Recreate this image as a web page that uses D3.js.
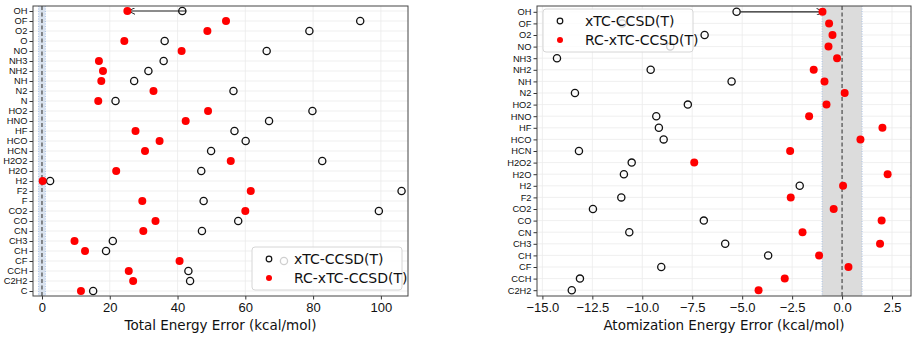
<!DOCTYPE html>
<html>
<head>
<meta charset="utf-8">
<script src="https://cdn.jsdelivr.net/npm/d3@7"></script>
<style>
  body { margin: 0; background: #fff; }
  svg { font-family: "DejaVu Sans", sans-serif; }
</style>
</head>
<body>
<svg id="svg" width="918" height="337"></svg>
<script>
// ---- left panel: total energy error ----
var totalMols = ["OH","OF","O2","O","NO","NH3","NH2","NH","N2","N","HO2","HNO","HF","HCO","HCN","H2O2","H2O","H2","F2","F","CO2","CO","CN","CH3","CH","CF","CCH","C2H2","C"];
var totalXtc  = [41.4,93.9,78.9,36.2,66.3,35.9,31.4,27.2,56.5,21.7,79.8,67.0,56.8,60.1,49.9,82.7,47.0,2.4,106.1,47.7,99.4,57.9,47.2,20.9,18.9,71.4,43.2,43.7,15.1];
var totalRc   = [25.2,54.3,48.8,24.3,41.2,16.8,18.0,17.5,32.9,16.6,49.0,42.4,27.6,34.7,30.4,55.7,21.9,0.2,61.6,29.6,60.0,33.5,29.9,9.6,12.7,40.6,25.6,26.9,11.5];
var totalTicks = [0,20,40,60,80,100];

// ---- right panel: atomization energy error ----
var atomMols = ["OH","OF","O2","NO","NH3","NH2","NH","N2","HO2","HNO","HF","HCO","HCN","H2O2","H2O","H2","F2","CO2","CO","CN","CH3","CH","CF","CCH","C2H2"];
var atomXtc  = [-5.28,-11.0,-6.88,-8.6,-14.27,-9.58,-5.53,-13.37,-7.72,-9.3,-9.17,-8.93,-13.17,-10.53,-10.92,-2.12,-11.05,-12.47,-6.92,-10.65,-5.85,-3.7,-9.05,-13.12,-13.53];
var atomRc   = [-0.98,-0.65,-0.48,-0.68,-0.25,-1.42,-0.88,0.13,-0.78,-1.65,2.02,0.92,-2.6,-7.4,2.28,0.05,-2.57,-0.42,1.98,-1.98,1.9,-1.15,0.32,-2.87,-4.18];
var atomTicks = [-15,-12.5,-10,-7.5,-5,-2.5,0,2.5];

var legendNames = ["xTC-CCSD(T)","RC-xTC-CCSD(T)"];

var svg = d3.select("#svg");
var defs = svg.append("defs");
defs.append("marker")
  .attr("id","arr")
  .attr("viewBox","0 0 10 10")
  .attr("refX",10).attr("refY",5)
  .attr("markerWidth",7).attr("markerHeight",7)
  .attr("markerUnits","userSpaceOnUse")
  .attr("orient","auto")
  .append("path")
  .attr("d","M0,0 L10,5 L0,10")
  .attr("fill","none").attr("stroke","#222").attr("stroke-width",1.4);

function panel(o){
  var x = d3.scaleLinear().domain(o.xdom).range([o.left,o.right]);
  var y = d3.scalePoint().domain(o.mols).range([o.top,o.bottom]).padding(0.5);
  var g = svg.append("g");

  // grid
  g.selectAll(".vg").data(o.ticks).enter().append("line")
    .attr("x1",d=>x(d)).attr("x2",d=>x(d))
    .attr("y1",o.top).attr("y2",o.bottom)
    .attr("stroke","#ebebeb").attr("stroke-width",0.8);
  g.selectAll(".hg").data(o.mols).enter().append("line")
    .attr("x1",o.left).attr("x2",o.right)
    .attr("y1",d=>y(d)).attr("y2",d=>y(d))
    .attr("stroke","#ebebeb").attr("stroke-width",0.8);

  // chemical accuracy band
  g.append("rect")
    .attr("x",x(-1)).attr("width",x(1)-x(-1))
    .attr("y",o.top).attr("height",o.bottom-o.top)
    .attr("fill",o.band);
  [-1,1].forEach(function(v){
    g.append("line")
      .attr("x1",x(v)).attr("x2",x(v)).attr("y1",o.top).attr("y2",o.bottom)
      .attr("stroke","#a9c1e6").attr("stroke-width",1).attr("stroke-dasharray","1,1.5");
  });
  g.append("line")
    .attr("x1",x(0)).attr("x2",x(0)).attr("y1",o.top).attr("y2",o.bottom)
    .attr("stroke","#555").attr("stroke-width",1.3).attr("stroke-dasharray","4,2.5");

  // arrow on first row
  var m0 = o.mols[0];
  g.append("line")
    .attr("x1",x(o.xtc[0])+4).attr("x2",x(o.rc[0])+1)
    .attr("y1",y(m0)).attr("y2",y(m0))
    .attr("stroke","#222").attr("stroke-width",1.2)
    .attr("marker-end","url(#arr)");

  // points
  g.selectAll(".xtc").data(o.mols).enter().append("circle")
    .attr("cx",(d,i)=>x(o.xtc[i])).attr("cy",d=>y(d)).attr("r",3.6)
    .attr("fill","none").attr("stroke","#111").attr("stroke-width",1.3);
  g.selectAll(".rc").data(o.mols).enter().append("circle")
    .attr("cx",(d,i)=>x(o.rc[i])).attr("cy",d=>y(d)).attr("r",4)
    .attr("fill","#ff0000");

  // axes
  var xa = g.append("g").attr("transform",`translate(0,${o.bottom})`)
    .call(d3.axisBottom(x).tickValues(o.ticks).tickSize(3.5).tickPadding(3)
      .tickFormat(o.fmt));
  xa.selectAll("text").attr("font-size",13).attr("fill","#111");
  var ya = g.append("g").attr("transform",`translate(${o.left},0)`)
    .call(d3.axisLeft(y).tickSize(3.5).tickPadding(2));
  ya.selectAll("text").attr("font-size",9.3).attr("fill","#111");
  [xa,ya].forEach(a=>{ a.select(".domain").remove(); a.selectAll("line").attr("stroke","#333"); });

  g.append("rect")
    .attr("x",o.left).attr("y",o.top)
    .attr("width",o.right-o.left).attr("height",o.bottom-o.top)
    .attr("fill","none").attr("stroke","#444").attr("stroke-width",1);

  g.append("text")
    .attr("x",(o.left+o.right)/2).attr("y",330)
    .attr("text-anchor","middle").attr("font-size",13.5).attr("fill","#111")
    .text(o.title);

  // legend
  var lg = g.append("g").attr("transform",`translate(${o.leg[0]},${o.leg[1]})`);
  lg.append("rect").attr("width",150).attr("height",43).attr("rx",3)
    .attr("fill","rgba(255,255,255,0.8)").attr("stroke","#d6d6d6");
  lg.append("circle").attr("cx",17).attr("cy",12).attr("r",2.8)
    .attr("fill","none").attr("stroke","#111").attr("stroke-width",1.2);
  lg.append("circle").attr("cx",17).attr("cy",31).attr("r",3)
    .attr("fill","#ff0000");
  lg.selectAll("text").data(legendNames).enter().append("text")
    .attr("x",42).attr("y",(d,i)=>12+i*19).attr("dy","0.35em")
    .attr("font-size",14).attr("fill","#111").text(d=>d);
}

panel({
  mols: totalMols, xtc: totalXtc, rc: totalRc, ticks: totalTicks,
  xdom: [-2.65,108], left: 33, right: 408, top: 6, bottom: 296,
  band: "rgba(176,196,222,0.45)", fmt: d3.format("d"),
  title: "Total Energy Error (kcal/mol)", leg: [252,247]
});
panel({
  mols: atomMols, xtc: atomXtc, rc: atomRc, ticks: atomTicks,
  xdom: [-15.27,3.45], left: 537, right: 911, top: 6, bottom: 296,
  band: "#dcdcdc", fmt: d=>d3.format(".1f")(d).replace("-","\u2212"),
  title: "Atomization Energy Error (kcal/mol)", leg: [543,9]
});
</script>
</body>
</html>
